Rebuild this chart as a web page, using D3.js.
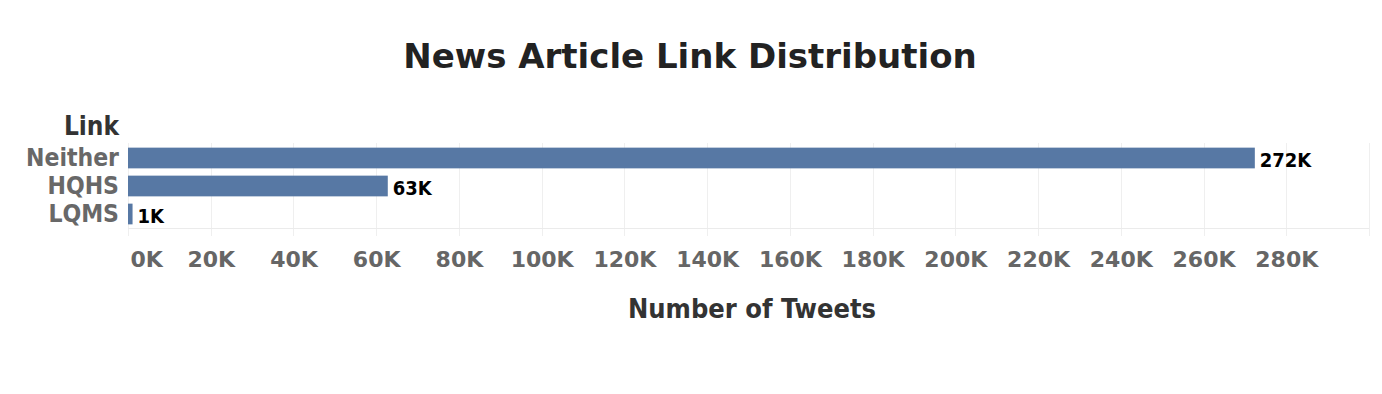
<!DOCTYPE html>
<html>
<head>
<meta charset="utf-8">
<script src="https://cdn.jsdelivr.net/npm/d3@7"></script>
<style>
  html, body { margin: 0; padding: 0; background: #fff; }
  svg { display: block; }
  text { font-family: "DejaVu Sans Condensed", "DejaVu Sans", sans-serif; font-weight: bold; }
  text.wide { font-family: "DejaVu Sans", sans-serif; }
</style>
</head>
<body>
<svg id="chart" width="1382" height="394"></svg>
<script>
const categories = ["Neither", "HQHS", "LQMS"];
const values = [272400, 62800, 1100];
const valueLabels = ["272K", "63K", "1K"];
const tickValues = [0, 20000, 40000, 60000, 80000, 100000, 120000, 140000, 160000, 180000, 200000, 220000, 240000, 260000, 280000];
const tickLabels = ["0K", "20K", "40K", "60K", "80K", "100K", "120K", "140K", "160K", "180K", "200K", "220K", "240K", "260K", "280K"];
const gridValues = tickValues.concat([300000]);

const svg = d3.select("#chart");
const x = d3.scaleLinear().domain([0, 300000]).range([128, 1369]);
const y = d3.scaleBand().domain(categories).range([144, 228]).paddingInner(0.26).paddingOuter(0.13);

// title
svg.append("text").attr("class", "wide").attr("x", 690).attr("y", 68).attr("text-anchor", "middle")
  .attr("font-size", 34).attr("fill", "#222").text("News Article Link Distribution");

// grid
svg.append("g").selectAll("line").data(gridValues).join("line")
  .attr("x1", d => Math.round(x(d)) + 0.5).attr("x2", d => Math.round(x(d)) + 0.5)
  .attr("y1", 143).attr("y2", 236)
  .attr("stroke", "#efefef").attr("stroke-width", 1);
svg.append("line").attr("x1", 128).attr("x2", 1369).attr("y1", 228.5).attr("y2", 228.5)
  .attr("stroke", "#ebebeb");

// bars
svg.append("g").selectAll("rect").data(categories).join("rect")
  .attr("x", x(0)).attr("y", d => y(d))
  .attr("width", (d, i) => x(values[i]) - x(0)).attr("height", y.bandwidth())
  .attr("fill", "#5778a4");

// value labels
svg.append("g").selectAll("text").data(categories).join("text")
  .attr("x", (d, i) => x(values[i]) + 5).attr("y", d => y(d) + y.bandwidth() / 2 + 3)
  .attr("dominant-baseline", "middle")
  .attr("font-size", 20).attr("fill", "#000").text((d, i) => valueLabels[i]);

// row labels
svg.append("g").selectAll("text").data(categories).join("text")
  .attr("x", 119).attr("y", d => y(d) + y.bandwidth() / 2 + 1)
  .attr("text-anchor", "end").attr("dominant-baseline", "middle")
  .attr("font-size", 24.5).attr("fill", "#686868").text(d => d);

// header
svg.append("text").attr("x", 119).attr("y", 135).attr("text-anchor", "end")
  .attr("font-size", 26).attr("fill", "#333").text("Link");

// x tick labels
const xAxis = d3.axisBottom(x).tickValues(tickValues).tickFormat((d, i) => tickLabels[i]).tickSize(0).tickPadding(0);
const gx = svg.append("g").attr("transform", "translate(0,267)").call(xAxis);
gx.select(".domain").remove();
gx.attr("font-family", null).attr("font-size", null);
gx.selectAll("text").attr("class", "wide").attr("y", 0).attr("dy", 0)
  .attr("font-size", 22).attr("fill", "#666");
gx.selectAll(".tick").filter(d => d === 0).select("text").attr("text-anchor", "start").attr("x", 2);

// axis title
svg.append("text").attr("x", 752).attr("y", 318).attr("text-anchor", "middle")
  .attr("font-size", 27).attr("fill", "#333").text("Number of Tweets");
</script>
</body>
</html>
